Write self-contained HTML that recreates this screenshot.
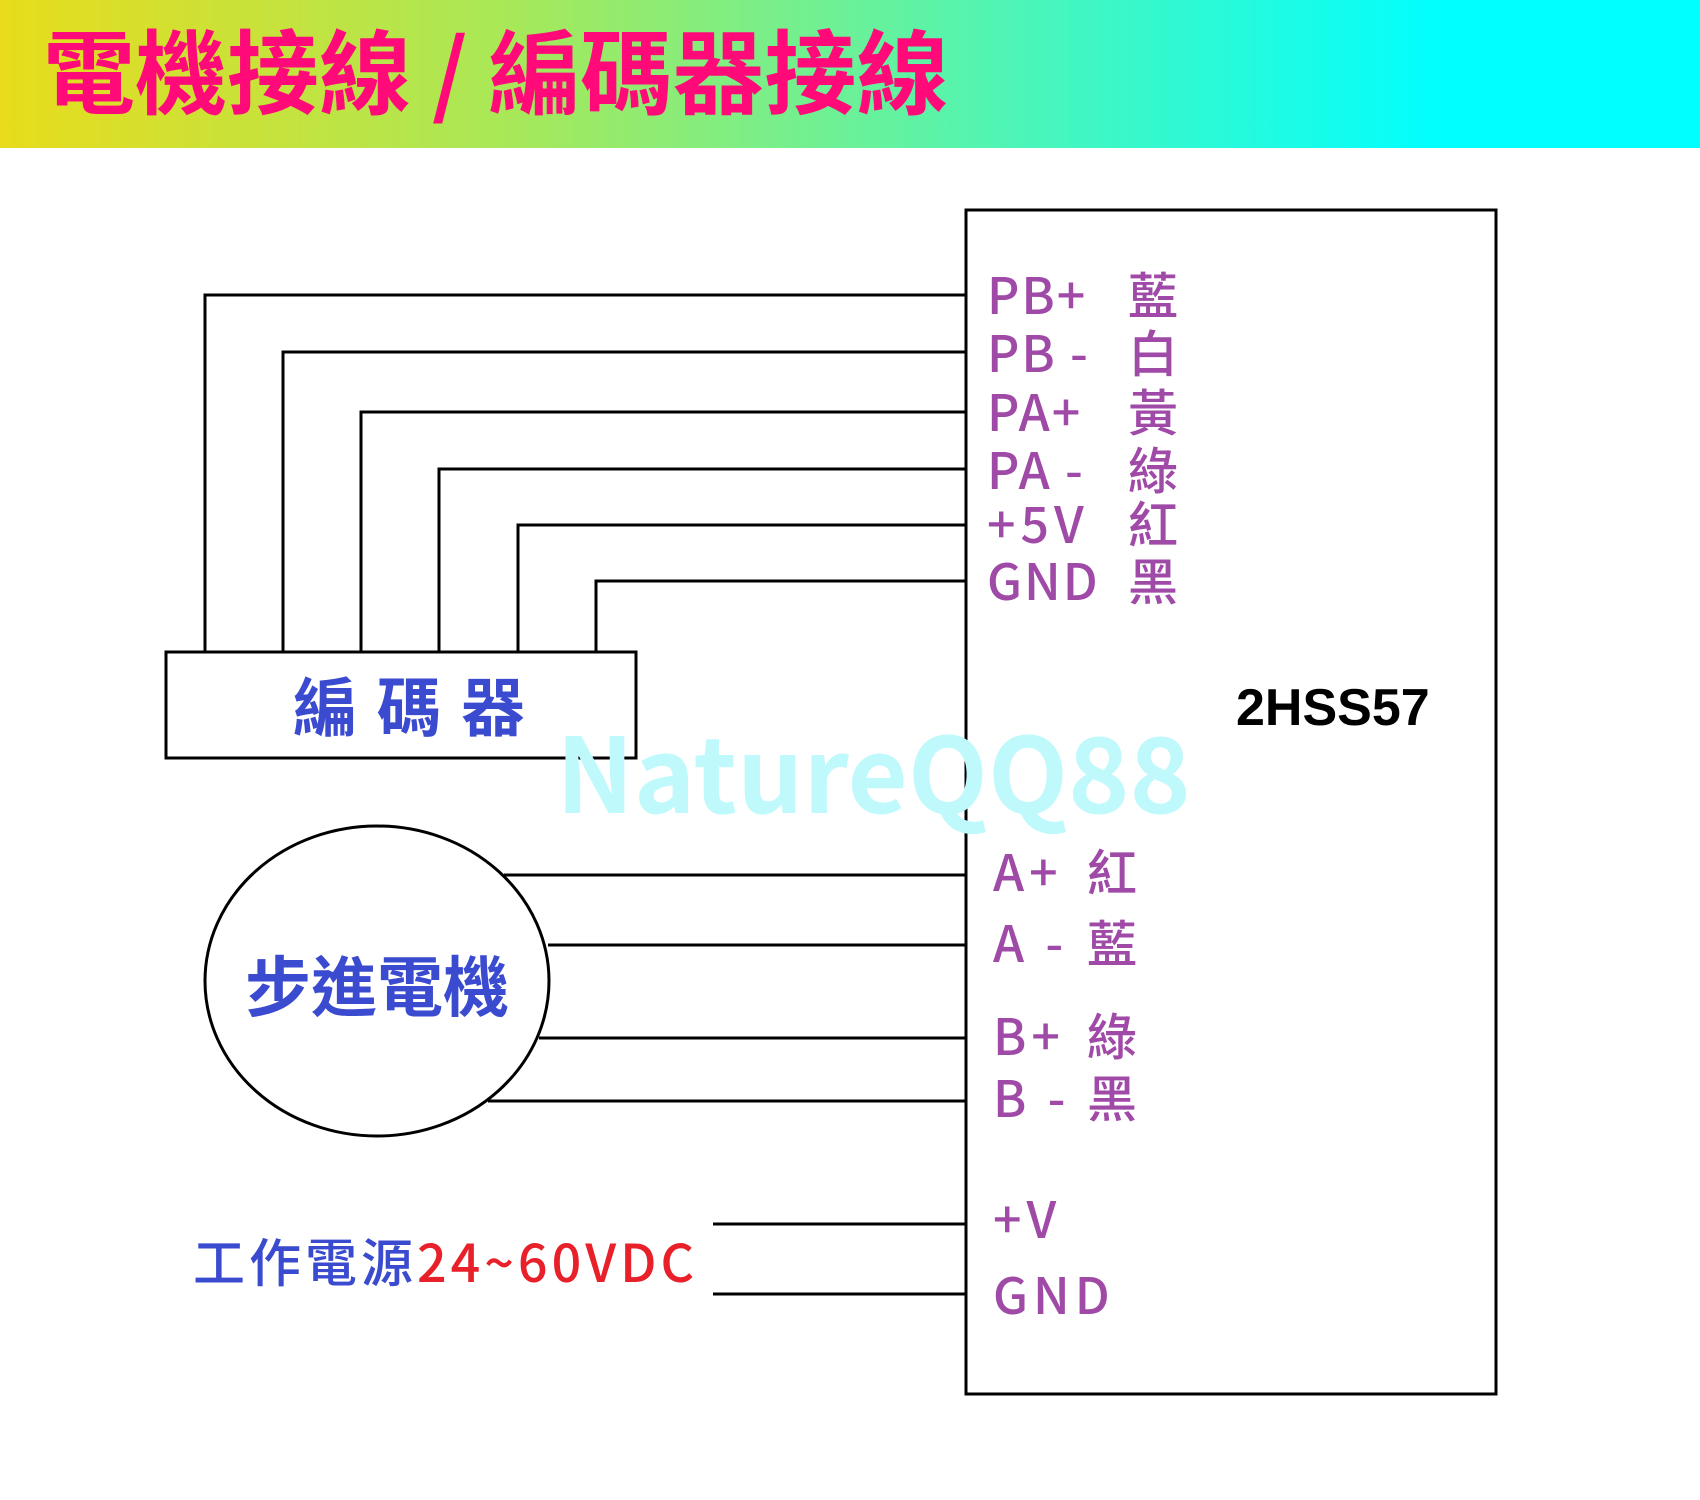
<!DOCTYPE html>
<html><head><meta charset="utf-8"><style>
body{margin:0;width:1700px;height:1500px;background:#fff;overflow:hidden;position:relative;font-family:"Liberation Sans","Noto Sans CJK TC",sans-serif}
.hdr{position:absolute;left:0;top:0;width:1700px;height:148px;background:linear-gradient(90deg,#e8dc1c 0%,#a8e858 30%,#4cf5b8 60%,#00ffff 85%,#00ffff 100%)}
.t{position:absolute;white-space:nowrap;line-height:1}
.p{color:#a04aa8;font-family:"Noto Sans CJK TC",sans-serif;font-size:50px;font-weight:500;letter-spacing:2px}
.q{letter-spacing:5px}
svg{position:absolute;left:0;top:0}
</style></head><body>
<div class="hdr"></div>
<div class="t" style="left:43px;top:22px;font-size:92px;font-weight:bold;color:#ff0a78;font-family:'Noto Sans CJK TC',sans-serif;letter-spacing:0px">電機接線 / 編碼器接線</div>
<svg width="1700" height="1500">
<g stroke="#000" stroke-width="3" fill="none">
<rect x="966" y="210" width="530" height="1184"/>
<polyline points="966,295 205,295 205,652"/>
<polyline points="966,352 283,352 283,652"/>
<polyline points="966,412 361,412 361,652"/>
<polyline points="966,469 439,469 439,652"/>
<polyline points="966,525 518,525 518,652"/>
<polyline points="966,581 596,581 596,652"/>
<rect x="166" y="652" width="470" height="106"/>
<ellipse cx="377" cy="981" rx="172" ry="155"/>
<line x1="504" y1="875" x2="966" y2="875"/>
<line x1="548" y1="945" x2="966" y2="945"/>
<line x1="539" y1="1038" x2="966" y2="1038"/>
<line x1="488" y1="1101" x2="966" y2="1101"/>
<line x1="713" y1="1224" x2="966" y2="1224"/>
<line x1="713" y1="1294" x2="966" y2="1294"/>
</g>
</svg>
<div class="t" style="left:556px;top:716px;font-size:104px;font-weight:bold;color:#bff9fb;font-family:'Noto Sans CJK TC',sans-serif">NatureQQ88</div>
<div class="t p" style="left:987px;top:268px">PB+</div><div class="t p" style="left:1128px;top:268px">藍</div>
<div class="t p" style="left:987px;top:326px">PB -</div><div class="t p" style="left:1128px;top:326px">白</div>
<div class="t p" style="left:987px;top:385px">PA+</div><div class="t p" style="left:1128px;top:385px">黃</div>
<div class="t p" style="left:987px;top:443px">PA -</div><div class="t p" style="left:1128px;top:443px">綠</div>
<div class="t p q" style="left:987px;top:497px">+5V</div><div class="t p" style="left:1128px;top:497px">紅</div>
<div class="t p" style="left:987px;top:554px">GND</div><div class="t p" style="left:1128px;top:554px">黑</div>
<div class="t" style="left:1236px;top:682px;font-size:52px;font-weight:bold;color:#000">2HSS57</div>
<div class="t p q" style="left:993px;top:845px">A+</div><div class="t p" style="left:1087px;top:845px">紅</div>
<div class="t p q" style="left:993px;top:916px">A -</div><div class="t p" style="left:1087px;top:916px">藍</div>
<div class="t p q" style="left:993px;top:1009px">B+</div><div class="t p" style="left:1087px;top:1009px">綠</div>
<div class="t p q" style="left:993px;top:1071px">B -</div><div class="t p" style="left:1087px;top:1071px">黑</div>
<div class="t p q" style="left:993px;top:1192px">+V</div>
<div class="t p q" style="left:993px;top:1268px">GND</div>
<div class="t" style="left:293px;top:672px;font-size:64px;font-weight:bold;color:#3b4bd0;font-family:'Noto Sans CJK TC',sans-serif;letter-spacing:20px">編碼器</div>
<div class="t" style="left:245px;top:950px;font-size:66px;font-weight:bold;color:#3b4bd0;font-family:'Noto Sans CJK TC',sans-serif">步進電機</div>
<div class="t" style="left:193px;top:1234px;font-size:52px;font-weight:500;letter-spacing:4px;font-family:'Noto Sans CJK TC',sans-serif"><span style="color:#3b4bd0">工作電源</span><span style="color:#e8202a">24~60VDC</span></div>
</body></html>
